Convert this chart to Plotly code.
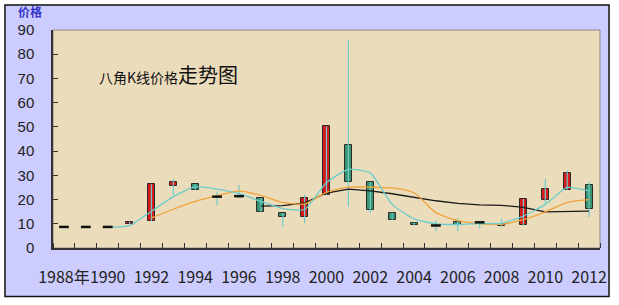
import plotly.graph_objects as go

# ---- data ----
years = list(range(1988, 2013))
open_ = [8.7, 8.7, 8.7, 9.8, 11.0, 25.8, 26.3, 21.2, 21.4, 20.5, 14.5, 12.8, 22.0,
         42.5, 27.2, 14.6, 10.5, 9.3, 10.8, 10.6, 9.2, 9.3, 19.8, 24.0, 26.2]
close = [8.7, 8.7, 8.7, 10.8, 26.3, 27.3, 24.0, 21.2, 21.4, 15.0, 12.6, 20.5, 50.2,
         27.4, 15.6, 11.5, 9.3, 9.3, 9.3, 10.6, 10.0, 20.2, 24.4, 30.8, 16.0]
high = [8.7, 8.7, 8.7, 10.8, 26.3, 28.4, 26.3, 23.3, 26.0, 20.5, 14.5, 21.9, 50.2,
        85.8, 27.2, 14.6, 10.5, 11.5, 12.2, 10.6, 12.0, 20.2, 28.5, 32.0, 27.4]
low = [8.7, 8.7, 8.7, 9.8, 11.0, 21.9, 24.0, 17.7, 20.6, 15.0, 8.7, 10.2, 22.0,
       17.0, 14.4, 11.5, 9.3, 7.0, 6.9, 8.0, 8.7, 9.3, 18.4, 24.0, 12.8]

ma3_years = list(range(1990, 2013))
ma3 = [8.4, 9.2, 15.2, 21.2, 25.3, 24.3, 22.4, 19.2, 16.3, 15.9, 27.0, 32.5, 31.0,
       18.0, 12.0, 10.0, 9.7, 10.1, 10.2, 13.2, 18.0, 25.0, 23.6]
ma5_years = list(range(1992, 2013))
ma5 = [12.4, 16.0, 19.2, 21.6, 23.6, 21.7, 18.8, 18.2, 23.0, 25.1, 25.1, 24.8, 22.8,
       14.6, 11.3, 10.1, 9.8, 11.7, 14.9, 18.8, 20.0]
ma10_years = list(range(1997, 2013))
ma10 = [17.3, 17.5, 18.6, 22.7, 24.3, 23.6, 22.4, 20.8, 19.5, 18.4, 17.8, 17.6,
        16.8, 14.9, 15.2, 15.2]

tick_years = list(range(1988, 2013, 2))
tick_text = ["1988年"] + [str(y) for y in tick_years[1:]]
y_ticks = list(range(0, 91, 10))

RED = "#D81A1A"
GREEN = "#3A9470"
TEAL = "#6CCCCC"
ORANGE = "#F2A33A"

fig = go.Figure()

# wicks
wx, wy = [], []
for yr, h, l in zip(years, high, low):
    if h > l:
        wx += [yr, yr, None]
        wy += [l, h, None]
fig.add_trace(go.Scatter(x=wx, y=wy, mode="lines",
                         line=dict(color=TEAL, width=1.2), hoverinfo="skip"))

# moving average lines
fig.add_trace(go.Scatter(x=ma10_years, y=ma10, mode="lines",
                         line=dict(color="#1a1a1a", width=1.3)))
fig.add_trace(go.Scatter(x=ma5_years, y=ma5, mode="lines",
                         line=dict(color=ORANGE, width=1.3, shape="spline",
                                   smoothing=0.6)))
fig.add_trace(go.Scatter(x=ma3_years, y=ma3, mode="lines",
                         line=dict(color=TEAL, width=1.3, shape="spline",
                                   smoothing=0.5)))

# bodies
bx, bbase, bh, bc = [], [], [], []
dx, dy = [], []
for yr, o, c in zip(years, open_, close):
    if c == o:
        dx.append(yr)
        dy.append(o)
    else:
        bx.append(yr)
        bbase.append(o)
        bh.append(c - o)
        bc.append(RED if c > o else GREEN)
fig.add_trace(go.Bar(x=bx, y=bh, base=bbase, width=0.32,
                     marker=dict(color=bc, line=dict(color="#2a2a2a", width=1))))
fig.add_trace(go.Scatter(x=dx, y=dy, mode="markers",
                         marker=dict(symbol="line-ew-open", size=7, color="#111",
                                     line=dict(color="#111", width=2.5))))

# frame & plot background
fig.add_shape(type="rect", xref="paper", yref="paper",
              x0=-0.0878, x1=1.0165, y0=-0.223, y1=1.115,
              fillcolor="#CCCCFF", line=dict(color="#111", width=1.5), layer="below")
fig.add_shape(type="rect", xref="paper", yref="paper", x0=0, x1=1, y0=0, y1=1,
              fillcolor="#EBDDBB", line=dict(color="#8a8a8a", width=1), layer="below")

fig.add_annotation(xref="paper", yref="paper", x=-0.068, y=1.085,
                   xanchor="left", yanchor="middle", showarrow=False,
                   text="<b>价格</b>",
                   font=dict(family="Noto Sans CJK SC", size=12, color="#3535C8"))
fig.add_annotation(xref="x", yref="y", x=1989.5, y=71.5,
                   xanchor="left", yanchor="middle", showarrow=False,
                   text="八角K线价格<span style='font-size:20px'>走势图</span>",
                   font=dict(family="Noto Sans CJK SC", size=14, color="#111"))

fig.update_layout(
    width=619, height=305, autosize=False,
    margin=dict(l=53, r=19, t=30, b=57, autoexpand=False),
    paper_bgcolor="white", plot_bgcolor="rgba(0,0,0,0)",
    showlegend=False, bargap=0,
    xaxis=dict(range=[1987.5, 2012.5], tickmode="array", tickvals=tick_years,
               ticktext=tick_text, ticks="", showgrid=False, zeroline=False,
               showline=True, linecolor="#333", linewidth=1.5,
               tickangle=0, automargin=False,
               ticklabelstandoff=14,
               tickfont=dict(family="Noto Sans CJK SC", size=16, color="#222"),
               minor=dict(tick0=1987.5, dtick=1, ticks="inside", ticklen=5,
                          tickcolor="#333", tickwidth=1, showgrid=False)),
    yaxis=dict(range=[0, 90], tickvals=y_ticks, ticks="inside", ticklen=5,
               tickcolor="#333", showgrid=False, zeroline=False,
               showline=True, linecolor="#333", linewidth=1.5,
               automargin=False, ticklabelstandoff=14,
               tickfont=dict(family="Liberation Sans", size=15, color="#222")),
)

fig.write_html("out.html")
